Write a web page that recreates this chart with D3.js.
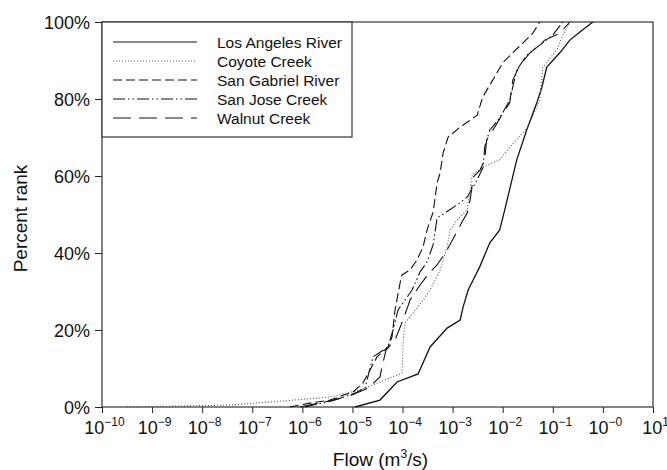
<!DOCTYPE html>
<html>
<head>
<meta charset="utf-8">
<script src="https://cdn.jsdelivr.net/npm/d3@7"></script>
<style>
  body { margin: 0; background: #fff; }
  text { font-family: "Liberation Sans", Arial, sans-serif; fill: #111; }
</style>
</head>
<body>
<svg id="chart" width="667" height="470"></svg>
<script>
// log10 of flow (m3/s) and percent rank
const laLogFlow = [-4.95,-4.45,-4.11,-3.69,-3.45,-3.11,-2.85,-2.79,-2.69,-2.59,-2.46,-2.26,-2.06,-1.96,-1.72,-1.52,-1.32,-1.22,-1.12,-0.86,-0.66,-0.46,-0.20];
const laRank    = [0,1.8,6.5,8.6,15.6,20.5,22.6,26,30.4,33,36.4,42.6,46,51.2,64.2,72,79,83,88.3,92,95.3,97.4,100];

const coyoteLogFlow = [-9.5,-7.45,-6.45,-5.45,-4.85,-4.45,-4.01,-3.99,-3.95,-3.79,-3.59,-3.45,-3.25,-3.11,-3.05,-2.91,-2.71,-2.61,-2.40,-2.06,-1.86,-1.50,-1.26,-1.20,-0.92,-0.80,-0.66];
const coyoteRank    = [0,0.5,1.5,2.6,4.4,6.5,8.8,16.6,21.8,24.4,27.8,30.4,35.6,41.6,46,48.6,51.2,60.3,62.3,64.2,67.5,72.7,79.7,88.3,92.7,96.6,100];

const gabrielLogFlow = [-6.25,-5.85,-5.45,-4.99,-4.79,-4.51,-4.29,-4.21,-4.15,-4.05,-4.01,-3.85,-3.71,-3.59,-3.51,-3.39,-3.31,-3.25,-3.19,-3.09,-2.85,-2.65,-2.51,-2.40,-2.20,-2.00,-1.80,-1.60,-1.40,-1.26];
const gabrielRank    = [0,1.0,1.8,3.9,6.2,13.0,15.6,18.2,25.2,32.2,34.3,35.6,38.2,41.6,46,50.6,58.2,60.8,66,70.1,72.7,74.5,75.8,80.5,84.9,89.4,92.0,94.5,97.1,100];

const joseLogFlow = [-5.95,-5.35,-4.95,-4.75,-4.59,-4.29,-4.19,-4.09,-3.95,-3.81,-3.65,-3.51,-3.39,-3.31,-2.91,-2.71,-2.51,-2.39,-2.36,-2.26,-2.06,-1.86,-1.72,-1.52,-1.26,-1.00,-0.80];
const joseRank    = [0,1.8,3.6,4.9,13.0,15.6,20.0,25.2,27.8,30.4,35.1,37.7,42.1,49.1,52.5,54.5,59.0,62.3,67.5,71.9,75.1,79.7,87.5,91.4,94.0,96.6,100];

const walnutLogFlow = [-6.05,-5.45,-5.01,-4.69,-4.45,-4.41,-4.33,-4.15,-3.99,-3.85,-3.65,-3.45,-3.31,-3.11,-2.95,-2.81,-2.71,-2.65,-2.59,-2.45,-2.36,-2.32,-2.16,-2.02,-1.86,-1.80,-1.66,-1.46,-1.16,-0.86,-0.66];
const walnutRank    = [0,1.6,3.1,4.9,7.8,10.4,14.8,17.4,22.6,27.8,31.7,35.1,36.9,40.8,44.7,48.1,50.4,53.8,59.7,61.6,64.2,69.4,72.7,75.8,79.0,84.9,88.8,91.9,95.3,97.1,100];

const seriesNames = ["Los Angeles River", "Coyote Creek", "San Gabriel River", "San Jose Creek", "Walnut Creek"];
const xTickExps   = [-10,-9,-8,-7,-6,-5,-4,-3,-2,-1,0,1];
const xTickSups   = ["\u221210","\u22129","\u22128","\u22127","\u22126","\u22125","\u22124","\u22123","\u22122","\u22121","\u22120","1"];
const yTicks      = [0,20,40,60,80,100];

const dashes = ["none", "1,2", "9,4", "12,3,1.5,3,1.5,3", "18,8"];

const zip = (f, r) => f.map((v, i) => ({ flow: Math.pow(10, v), rank: r[i] }));
const series = [
  zip(laLogFlow, laRank),
  zip(coyoteLogFlow, coyoteRank),
  zip(gabrielLogFlow, gabrielRank),
  zip(joseLogFlow, joseRank),
  zip(walnutLogFlow, walnutRank)
];

const mLeft = 102, mRight = 653, mTop = 22, mBottom = 407;

const x = d3.scaleLog().domain([1e-10, 1e1]).range([mLeft, mRight]);
const y = d3.scaleLinear().domain([0, 100]).range([mBottom, mTop]);

const svg = d3.select("#chart");

// x axis
const gx = svg.append("g")
  .attr("transform", `translate(0,${mBottom})`)
  .call(d3.axisBottom(x)
    .tickValues(xTickExps.map(e => Math.pow(10, e)))
    .tickSize(6).tickSizeOuter(0).tickPadding(9)
    .tickFormat(""));
gx.select(".domain").remove();
gx.selectAll(".tick line").attr("stroke", "#222");
gx.selectAll(".tick text").each(function(d, i) {
  const t = d3.select(this)
    .attr("font-size", 18)
    .attr("text-anchor", "middle")
    .attr("x", 2)
    .attr("y", 27)
    .attr("dy", 0)
    .style("font-family", "Liberation Sans, Arial, sans-serif");
  t.append("tspan").text("10");
  t.append("tspan").attr("font-size", 12).attr("dy", -8).text(xTickSups[i]);
});

// y axis
const gy = svg.append("g")
  .attr("transform", `translate(${mLeft},0)`)
  .call(d3.axisLeft(y)
    .tickValues(yTicks)
    .tickSize(7).tickSizeOuter(0).tickPadding(5)
    .tickFormat(d => d + "%"));
gy.select(".domain").remove();
gy.selectAll(".tick line").attr("stroke", "#222");
gy.selectAll(".tick text").attr("font-size", 18).attr("dy", "0.38em").style("font-family", "Liberation Sans, Arial, sans-serif");

// frame
svg.append("rect")
  .attr("x", mLeft).attr("y", mTop)
  .attr("width", mRight - mLeft).attr("height", mBottom - mTop)
  .attr("fill", "none").attr("stroke", "#333").attr("stroke-width", 1.2);

// curves
const line = d3.line()
  .x(d => x(d.flow))
  .y(d => y(d.rank));

svg.append("g").selectAll("path")
  .data(series)
  .enter().append("path")
    .attr("d", line)
    .attr("fill", "none")
    .attr("stroke", (d, i) => i == 1 ? "#555" : "#111")
    .attr("stroke-width", (d, i) => i == 0 ? 1.3 : 1.1)
    .attr("stroke-dasharray", (d, i) => dashes[i]);

// legend
const lg = svg.append("g");
lg.append("rect")
  .attr("x", mLeft).attr("y", mTop)
  .attr("width", 250).attr("height", 115)
  .attr("fill", "#fff").attr("stroke", "#333").attr("stroke-width", 1.2);

const rows = lg.selectAll("g.row")
  .data(seriesNames)
  .enter().append("g")
    .attr("class", "row")
    .attr("transform", (d, i) => `translate(0,${42 + i * 19})`);
rows.append("line")
  .attr("x1", 113).attr("x2", 197)
  .attr("stroke", (d, i) => i == 1 ? "#555" : "#111")
  .attr("stroke-dasharray", (d, i) => dashes[i]);
rows.append("text")
  .attr("x", 217).attr("dy", "0.36em")
  .attr("font-size", 15.5)
  .text(d => d);

// axis titles
const xt = svg.append("text")
  .attr("x", (mLeft + mRight) / 2 + 3).attr("y", 466)
  .attr("text-anchor", "middle")
  .attr("font-size", 19);
xt.append("tspan").text("Flow (m");
xt.append("tspan").attr("font-size", 12).attr("dy", -8).text("3");
xt.append("tspan").attr("dy", 8).text("/s)");

svg.append("text")
  .attr("transform", `translate(27,${(mTop + mBottom) / 2 + 4}) rotate(-90)`)
  .attr("text-anchor", "middle")
  .attr("font-size", 19)
  .text("Percent rank");
</script>
</body>
</html>
